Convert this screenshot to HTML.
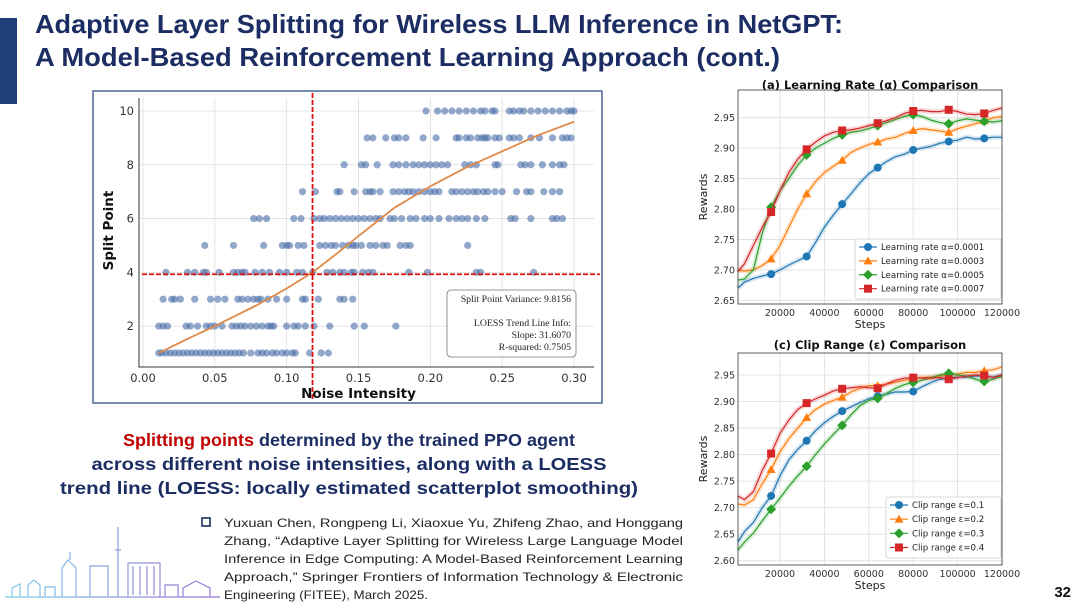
<!DOCTYPE html>
<html><head><meta charset="utf-8"><style>
html,body{margin:0;padding:0;background:#fff;}
svg{display:block;}
.t{font-family:"Liberation Sans",Arial,sans-serif;}
.d{font-family:"DejaVu Sans","Liberation Sans",sans-serif;}
</style></head><body>
<svg id="s" width="1080" height="607" viewBox="0 0 1080 607" xmlns="http://www.w3.org/2000/svg">
<rect x="0" y="18" width="17" height="86" fill="#1f3f7a"/>
<g class="t" font-weight="bold" fill="#1b2d63" font-size="26">
<text x="35" y="33" textLength="808" lengthAdjust="spacingAndGlyphs">Adaptive Layer Splitting for Wireless LLM Inference in NetGPT:</text>
<text x="35" y="66" textLength="745" lengthAdjust="spacingAndGlyphs">A Model-Based Reinforcement Learning Approach (cont.)</text>
</g>
<rect x="93" y="91" width="509" height="312" fill="#fff" stroke="#4a6496" stroke-width="1.5"/>
<g id="scatter"></g>
<g id="chartA"></g>
<g id="chartC"></g>
<g class="t" font-weight="bold" font-size="17.5" text-anchor="middle" fill="#1b2d63">
<text x="349" y="446" textLength="452" lengthAdjust="spacingAndGlyphs"><tspan fill="#c00000">Splitting points</tspan> determined by the trained PPO agent</text>
<text x="349" y="470" textLength="515" lengthAdjust="spacingAndGlyphs">across different noise intensities, along with a LOESS</text>
<text x="349" y="494" textLength="578" lengthAdjust="spacingAndGlyphs">trend line (LOESS: locally estimated scatterplot smoothing)</text>
</g>
<rect x="202" y="518" width="8" height="8" fill="none" stroke="#1b2d63" stroke-width="1.6"/>
<g class="t" font-size="12" fill="#222">
<text x="224" y="527" textLength="459" lengthAdjust="spacingAndGlyphs">Yuxuan Chen, Rongpeng Li, Xiaoxue Yu, Zhifeng Zhao, and Honggang</text>
<text x="224" y="545" textLength="459" lengthAdjust="spacingAndGlyphs">Zhang, “Adaptive Layer Splitting for Wireless Large Language Model</text>
<text x="224" y="563" textLength="459" lengthAdjust="spacingAndGlyphs">Inference in Edge Computing: A Model-Based Reinforcement Learning</text>
<text x="224" y="581" textLength="459" lengthAdjust="spacingAndGlyphs">Approach,” Springer Frontiers of Information Technology &amp; Electronic</text>
<text x="224" y="599" textLength="204" lengthAdjust="spacingAndGlyphs">Engineering (FITEE), March 2025.</text>
</g>
<defs><linearGradient id="sky" x1="0" x2="1"><stop offset="0" stop-color="#7fd0e8"/><stop offset="1" stop-color="#9a6fd0"/></linearGradient></defs>
<g fill="none" stroke="url(#sky)" stroke-width="1.2">
<path d="M5 597 L220 597 M12 597 V588 L20 584 V597 M28 597 V585 L34 580 L40 585 V597 M45 597 V587 H55 V597 M62 597 V568 L68 560 L76 568 V597 M70 560 V552 M90 597 V566 H108 V597 M118 597 V550 M115 550 H121 M118 550 V527 M128 597 V563 H160 V597 M133 566 V595 M140 566 V595 M147 566 V595 M154 566 V595 M165 597 V585 H178 V597 M183 597 V588 L196 581 L210 588 V597"/>
</g>
<text x="1071" y="597" class="t" font-weight="bold" font-size="15" text-anchor="end" fill="#111">32</text>
</svg>
<script>
// ---------- scatter data ----------
const splitLevels=[1,2,3,4,5,6,7,8,9,10];
const noiseRow1=[0.011,0.013,0.016,0.019,0.022,0.025,0.028,0.031,0.034,0.037,0.04,0.043,0.046,0.049,0.052,0.055,0.058,0.061,0.064,0.067,0.07,0.075,0.08,0.083,0.086,0.09,0.093,0.097,0.1,0.104,0.106,0.116,0.124,0.129];
const noiseRow2=[0.011,0.014,0.017,0.03,0.033,0.038,0.044,0.047,0.05,0.055,0.062,0.065,0.068,0.071,0.075,0.079,0.083,0.087,0.089,0.091,0.1,0.105,0.108,0.113,0.119,0.13,0.147,0.154,0.176];
const noiseRow3=[0.014,0.02,0.022,0.026,0.036,0.047,0.052,0.057,0.066,0.069,0.073,0.077,0.08,0.082,0.087,0.093,0.1,0.111,0.113,0.122,0.137,0.14,0.146];
const noiseRow4=[0.016,0.031,0.036,0.042,0.044,0.053,0.063,0.066,0.069,0.071,0.078,0.083,0.088,0.095,0.1,0.107,0.111,0.118,0.128,0.132,0.137,0.14,0.145,0.147,0.153,0.157,0.16,0.185,0.198,0.232,0.235,0.272];
const noiseRow5=[0.043,0.063,0.084,0.097,0.1,0.102,0.108,0.112,0.123,0.127,0.131,0.134,0.139,0.143,0.146,0.148,0.152,0.158,0.162,0.167,0.17,0.179,0.183,0.186,0.226];
const noiseRow6=[0.077,0.081,0.086,0.105,0.11,0.119,0.123,0.126,0.13,0.134,0.138,0.142,0.146,0.15,0.154,0.158,0.162,0.165,0.172,0.175,0.18,0.186,0.19,0.196,0.2,0.206,0.213,0.218,0.222,0.226,0.232,0.238,0.256,0.259,0.27,0.285,0.288,0.292];
const noiseRow7=[0.111,0.12,0.135,0.137,0.147,0.155,0.158,0.16,0.165,0.174,0.178,0.182,0.185,0.188,0.192,0.196,0.2,0.203,0.206,0.215,0.218,0.222,0.226,0.23,0.233,0.237,0.24,0.245,0.25,0.26,0.267,0.27,0.279,0.285,0.29];
const noiseRow8=[0.14,0.152,0.155,0.163,0.174,0.178,0.183,0.188,0.192,0.196,0.2,0.204,0.208,0.212,0.224,0.228,0.232,0.245,0.247,0.263,0.266,0.27,0.278,0.285,0.29,0.293];
const noiseRow9=[0.156,0.16,0.169,0.175,0.178,0.183,0.195,0.204,0.218,0.22,0.225,0.228,0.233,0.236,0.238,0.24,0.245,0.248,0.255,0.258,0.262,0.27,0.276,0.285,0.292,0.295,0.298];
const noiseRow10=[0.197,0.205,0.21,0.215,0.22,0.225,0.23,0.235,0.238,0.243,0.245,0.255,0.258,0.262,0.265,0.27,0.275,0.28,0.285,0.29,0.295,0.298,0.3];
const loessX=[0.011,0.03,0.05,0.08,0.1,0.118,0.135,0.15,0.175,0.2,0.225,0.25,0.275,0.3];
const loessY=[1.0,1.5,2.0,2.8,3.4,4.0,4.7,5.35,6.4,7.2,7.9,8.5,9.1,9.6];
const scatterXTicks=[0,0.05,0.1,0.15,0.2,0.25,0.3];
const scatterYTicks=[2,4,6,8,10];
const thresholdNoise=0.118, thresholdSplit=3.93;

// ---------- line chart data ----------
const steps=[0,4000,8000,12000,16000,20000,24000,28000,32000,36000,40000,44000,48000,52000,56000,60000,64000,68000,72000,76000,80000,84000,88000,92000,96000,100000,104000,108000,112000,116000,120000];
const lrLabels=["Learning rate α=0.0001","Learning rate α=0.0003","Learning rate α=0.0005","Learning rate α=0.0007"];
const lr1=[2.670,2.680,2.686,2.690,2.693,2.700,2.708,2.715,2.722,2.745,2.770,2.790,2.808,2.825,2.843,2.858,2.868,2.878,2.886,2.890,2.897,2.900,2.903,2.908,2.911,2.913,2.918,2.915,2.916,2.918,2.918];
const lr3=[2.700,2.698,2.700,2.707,2.718,2.740,2.770,2.800,2.825,2.845,2.860,2.870,2.880,2.893,2.900,2.906,2.910,2.915,2.918,2.924,2.929,2.932,2.930,2.928,2.926,2.932,2.936,2.940,2.945,2.950,2.952];
const lr5=[2.683,2.685,2.700,2.760,2.803,2.830,2.850,2.872,2.889,2.900,2.908,2.916,2.922,2.926,2.928,2.932,2.937,2.942,2.947,2.952,2.955,2.952,2.946,2.942,2.940,2.945,2.948,2.946,2.944,2.943,2.945];
const lr7=[2.697,2.710,2.740,2.770,2.795,2.830,2.860,2.882,2.898,2.910,2.920,2.926,2.929,2.930,2.933,2.937,2.941,2.945,2.950,2.957,2.961,2.962,2.960,2.960,2.963,2.960,2.956,2.955,2.957,2.962,2.966];
const lrYTicks=[2.65,2.70,2.75,2.80,2.85,2.90,2.95];
const clipLabels=["Clip range ε=0.1","Clip range ε=0.2","Clip range ε=0.3","Clip range ε=0.4"];
const clip1=[2.635,2.655,2.672,2.700,2.722,2.760,2.790,2.810,2.826,2.845,2.860,2.872,2.882,2.890,2.898,2.905,2.910,2.914,2.918,2.918,2.919,2.928,2.936,2.942,2.944,2.946,2.946,2.948,2.948,2.946,2.950];
const clip2=[2.707,2.705,2.715,2.745,2.772,2.805,2.830,2.850,2.870,2.885,2.895,2.902,2.908,2.918,2.925,2.930,2.930,2.933,2.936,2.940,2.943,2.945,2.946,2.948,2.950,2.952,2.955,2.955,2.958,2.960,2.965];
const clip3=[2.620,2.635,2.652,2.675,2.697,2.718,2.740,2.760,2.778,2.800,2.820,2.838,2.855,2.875,2.892,2.902,2.906,2.915,2.925,2.932,2.936,2.940,2.945,2.950,2.953,2.950,2.948,2.942,2.938,2.942,2.948];
const clip4=[2.722,2.715,2.730,2.770,2.802,2.840,2.865,2.885,2.897,2.905,2.912,2.920,2.924,2.926,2.928,2.926,2.925,2.933,2.940,2.944,2.945,2.944,2.944,2.945,2.942,2.945,2.948,2.950,2.949,2.945,2.950];
const clipYTicks=[2.60,2.65,2.70,2.75,2.80,2.85,2.90,2.95];
const stepTicks=[20000,40000,60000,80000,100000,120000];

const NS="http://www.w3.org/2000/svg";
function mk(parent,tag,attrs,text){const e=document.createElementNS(NS,tag);for(const k in attrs)e.setAttribute(k,attrs[k]);if(text!==undefined)e.textContent=text;parent.appendChild(e);return e;}

// ---------- scatter ----------
(function(){
  const g=document.getElementById('scatter');
  const L=139,R=594,T=98,B=367;
  const sx=v=>143+(v-0)/0.30*(574-143);
  const sy=v=>353-(v-1)*(353-111)/9;
  scatterXTicks.forEach(t=>{
    const gl=mk(g,'line',{x1:sx(t),x2:sx(t),y1:T,y2:B,stroke:'#ddd','stroke-width':0.8});
    
    
    const tl=mk(g,'text',{x:sx(t),y:382,'font-size':11.5,'text-anchor':'middle',fill:'#333',class:'d'},t.toFixed(2));
    
    
  });
  scatterYTicks.forEach(t=>{
    const gl=mk(g,'line',{x1:L,x2:R,y1:sy(t),y2:sy(t),stroke:'#ddd','stroke-width':0.8});
    
    
    const tl=mk(g,'text',{x:L-5,y:sy(t)+4,'font-size':11.5,'text-anchor':'end',fill:'#333',class:'d'},String(t));
    
    
  });
  const ax=mk(g,'path',{d:`M${L} ${T} V${B} H${R}`,fill:'none',stroke:'#333','stroke-width':1});
  
  
  const rows=[noiseRow1,noiseRow2,noiseRow3,noiseRow4,noiseRow5,noiseRow6,noiseRow7,noiseRow8,noiseRow9,noiseRow10];
  rows.forEach((row,i)=>{
    row.forEach(v=>{
      const c=mk(g,'circle',{cx:sx(v),cy:sy(splitLevels[i]),r:3.6,fill:'#4a6ea8','fill-opacity':0.6});
      
      
    });
  });
  const lp=mk(g,'polyline',{points:loessX.map((x,i)=>sx(x)+','+sy(loessY[i])).join(' '),fill:'none',stroke:'#e08a4a','stroke-width':1.8});
  
  
  const vl=mk(g,'line',{x1:sx(thresholdNoise),x2:sx(thresholdNoise),y1:93,y2:400,stroke:'#e01010','stroke-width':1.8,'stroke-dasharray':'5,2'});
  
  
  const hl=mk(g,'line',{x1:L+3,x2:600,y1:sy(thresholdSplit),y2:sy(thresholdSplit),stroke:'#e01010','stroke-width':1.8,'stroke-dasharray':'5,2'});
  
  
  const xl=mk(g,'text',{x:sx(0.15),y:398,'font-size':13.5,'font-weight':'bold','text-anchor':'middle',fill:'#111',class:'d'},'Noise Intensity');
  
  
  const yl=mk(g,'text',{x:0,y:0,'font-size':13.5,'font-weight':'bold','text-anchor':'middle',fill:'#111',class:'d',transform:`translate(113,${(T+B)/2-2}) rotate(-90)`},'Split Point');
  
  
  const bx=mk(g,'rect',{x:447,y:290,width:129,height:67,rx:4,fill:'#fff',stroke:'#777','stroke-width':0.8});
  
  
  const lines=[['Split Point Variance: 9.8156',302],['LOESS Trend Line Info:',326],['Slope: 31.6070',338],['R-squared: 0.7505',350]];
  lines.forEach(l=>{
    const t=mk(g,'text',{x:571,y:l[1],'font-size':9.8,'text-anchor':'end',fill:'#222','font-family':'Liberation Serif, serif'},l[0]);
    
    
  });
})();

// ---------- line charts ----------
const colors=['#1f77b4','#ff7f0e','#2ca02c','#d62728'];
function marker(g,shape,x,y,c){
  let e;
  if(shape===0) e=mk(g,'circle',{cx:x,cy:y,r:4,fill:c});
  else if(shape===1) e=mk(g,'path',{d:`M${x} ${y-4.5} L${x+4.5} ${y+3.5} L${x-4.5} ${y+3.5}Z`,fill:c});
  else if(shape===2) e=mk(g,'path',{d:`M${x} ${y-5} L${x+5} ${y} L${x} ${y+5} L${x-5} ${y}Z`,fill:c});
  else e=mk(g,'rect',{x:x-4,y:y-4,width:8,height:8,fill:c});
  return e;
}
function lineChart(id,title,titleY,T,B,yAt,yTicks,series,labels,leg){
  const g=document.getElementById(id);
  const L=738,R=1002;
  const sx=v=>780+(v-20000)*(1002-780)/100000;
  const sy=v=>yAt[1]-(v-yAt[0])*(yAt[1]-yAt[3])/(yAt[2]-yAt[0]);
  const bg=mk(g,'rect',{x:L,y:T,width:R-L,height:B-T,fill:'#fff'});
  
  
  stepTicks.forEach(t=>{
    const gl=mk(g,'line',{x1:sx(t),x2:sx(t),y1:T,y2:B,stroke:'#ddd','stroke-width':0.8});
    
    
    const tl=mk(g,'text',{x:sx(t),y:B+12,'font-size':9.5,'text-anchor':'middle',fill:'#333',class:'d'},String(t));
    
    
  });
  yTicks.forEach(t=>{
    const gl=mk(g,'line',{x1:L,x2:R,y1:sy(t),y2:sy(t),stroke:'#ddd','stroke-width':0.8});
    
    
    const tl=mk(g,'text',{x:L-3,y:sy(t)+3.5,'font-size':9.5,'text-anchor':'end',fill:'#333',class:'d'},t.toFixed(2));
    
    
  });
  series.forEach((s,i)=>{
    const band=mk(g,'polyline',{points:s.map((v,j)=>sx(Math.max(steps[j],1000))+','+sy(v)).join(' '),fill:'none',stroke:colors[i],'stroke-opacity':0.18,'stroke-width':5});
    
    
    const pl=mk(g,'polyline',{points:s.map((v,j)=>sx(Math.max(steps[j],1000))+','+sy(v)).join(' '),fill:'none',stroke:colors[i],'stroke-width':1.2});
    
    
    for(let j=4;j<s.length-1;j+=4){
      const m=marker(g,i,sx(steps[j]),sy(s[j]),colors[i]);
      
      
    }
  });
  const fr=mk(g,'rect',{x:L,y:T,width:R-L,height:B-T,fill:'none',stroke:'#333','stroke-width':0.8});
  
  
  const tt=mk(g,'text',{x:870,y:titleY,'font-size':11.5,'font-weight':'bold','text-anchor':'middle',fill:'#111',class:'d'},title);
  
  
  const xt=mk(g,'text',{x:870,y:B+24,'font-size':11,'text-anchor':'middle',fill:'#222',class:'d'},'Steps');
  
  
  const yt=mk(g,'text',{x:0,y:0,'font-size':11,'text-anchor':'middle',fill:'#222',class:'d',transform:`translate(707,${(T+B)/2}) rotate(-90)`},'Rewards');
  
  
  const lb=mk(g,'rect',{x:leg[0],y:leg[1],width:leg[2],height:leg[3],rx:2,fill:'#fff','fill-opacity':0.9,stroke:'#ccc','stroke-width':0.8});
  
  
  labels.forEach((lab,i)=>{
    const y=leg[1]+8+i*(leg[3]-10)/3.6;
    const ll=mk(g,'line',{x1:leg[0]+4,x2:leg[0]+22,y1:y,y2:y,stroke:colors[i],'stroke-width':1.2});
    
    
    const lm=marker(g,i,leg[0]+13,y,colors[i]);
    
    
    const lt=mk(g,'text',{x:leg[0]+26,y:y+3,'font-size':8.6,fill:'#222',class:'d'},lab);
    
    
  });
}
lineChart('chartA','(a)  Learning Rate (α) Comparison',89,90,304,[2.65,300.3,2.95,117.7],lrYTicks,[lr1,lr3,lr5,lr7],lrLabels,[855,239,146,60]);
lineChart('chartC','(c)  Clip Range (ε) Comparison',349,353,565,[2.60,560.7,2.95,375],clipYTicks,[clip1,clip2,clip3,clip4],clipLabels,[886,497,115,61]);
</script>
</body></html>
